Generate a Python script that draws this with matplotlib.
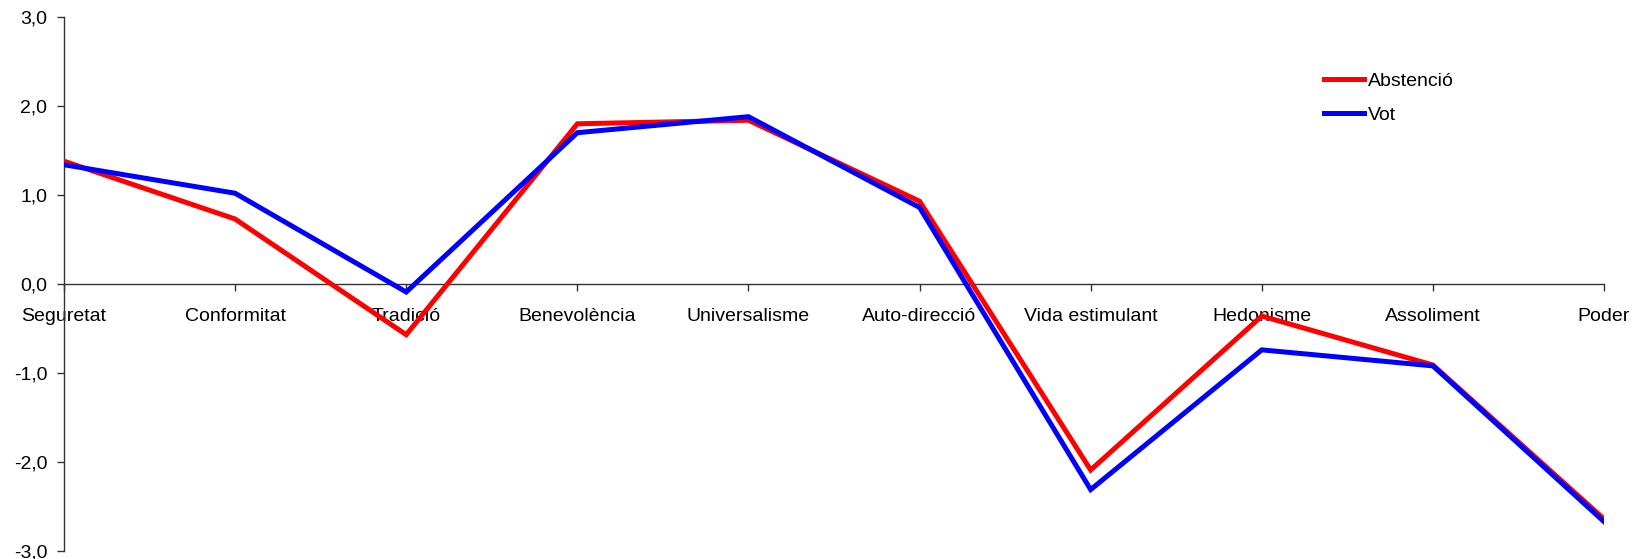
import matplotlib.pyplot as plt
from matplotlib.ticker import FuncFormatter

plt.rcParams['font.family'] = ['Liberation Sans', 'DejaVu Sans']
plt.rcParams['font.size'] = 14

categories = ['Seguretat', 'Conformitat', 'Tradició', 'Benevolència', 'Universalisme',
              'Auto-direcció', 'Vida estimulant', 'Hedonisme', 'Assoliment', 'Poder']
abstencio = [1.38, 0.73, -0.57, 1.80, 1.84, 0.93, -2.09, -0.36, -0.91, -2.64]
vot = [1.34, 1.02, -0.09, 1.70, 1.88, 0.86, -2.31, -0.74, -0.92, -2.67]
yticks = [-3, -2, -1, 0, 1, 2, 3]

fig = plt.figure(figsize=(16.37, 5.59), dpi=100)
ax = fig.add_axes([64/1637, 8/559, 1540/1637, 534/559])

x = list(range(len(categories)))
ax.plot(x, abstencio, color='#ff0000', lw=3.6, label='Abstenció', solid_joinstyle='miter', zorder=3)
ax.plot(x, vot, color='#0000ff', lw=3.6, label='Vot', solid_joinstyle='miter', zorder=3)

ax.set_xlim(0, 9)
ax.set_ylim(-3, 3)
ax.set_yticks(yticks)
ax.yaxis.set_major_formatter(FuncFormatter(lambda v, p: f'{v:.1f}'.replace('.', ',')))
ax.set_xticks(x)
ax.set_xticklabels(categories)

for s in ['top', 'right']:
    ax.spines[s].set_visible(False)
ax.spines['bottom'].set_position(('data', 0))
for s in ['left', 'bottom']:
    ax.spines[s].set_color('#333333')
    ax.spines[s].set_linewidth(1.0)
ax.tick_params(axis='y', direction='out', length=5, width=1, color='#333333', pad=7)
ax.tick_params(axis='x', direction='out', length=5, width=1, color='#333333', pad=12)

leg = ax.legend(loc='upper left', bbox_to_anchor=(1324/1637, 1 - 72/559),
                bbox_transform=fig.transFigure, frameon=False,
                handlelength=2.05, handletextpad=0.2, labelspacing=0.85,
                borderpad=0, borderaxespad=0, fontsize=14)

fig.savefig('out.png', dpi=100)
